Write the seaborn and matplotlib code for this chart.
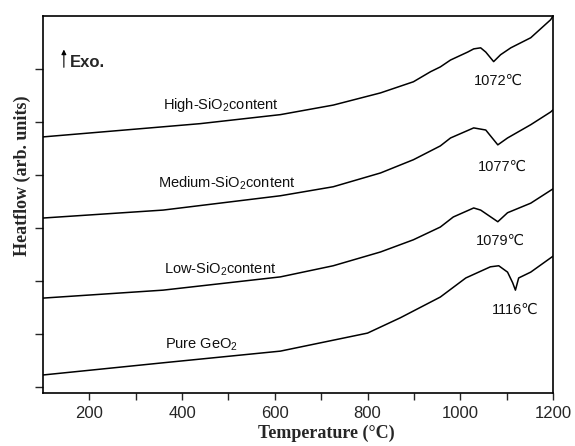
import numpy as np
import pandas as pd
import matplotlib
matplotlib.use("Agg")
import matplotlib.pyplot as plt
import seaborn as sns

# ---- data (temperature in °C, heatflow in arb. units) ----
high_T = [100, 331, 439, 612, 726, 828, 899, 936, 957, 979, 1016, 1029, 1044, 1055, 1072, 1087, 1109, 1152, 1195, 1200]
high_H = [4.83, 5.00, 5.08, 5.25, 5.43, 5.66, 5.87, 6.06, 6.15, 6.28, 6.43, 6.49, 6.51, 6.43, 6.25, 6.38, 6.51, 6.70, 7.04, 7.11]

med_T = [100, 359, 612, 726, 828, 899, 957, 979, 1029, 1055, 1081, 1102, 1152, 1195, 1200]
med_H = [3.30, 3.45, 3.72, 3.89, 4.15, 4.40, 4.66, 4.81, 5.00, 4.96, 4.68, 4.81, 5.06, 5.30, 5.34]

low_T = [100, 359, 612, 726, 828, 899, 957, 985, 1029, 1044, 1081, 1102, 1152, 1200]
low_H = [1.79, 1.94, 2.19, 2.40, 2.66, 2.89, 3.13, 3.32, 3.49, 3.45, 3.23, 3.40, 3.58, 3.85]

pure_T = [100, 359, 612, 800, 871, 957, 1012, 1065, 1083, 1102, 1113, 1119, 1126, 1152, 1200]
pure_H = [0.34, 0.57, 0.79, 1.13, 1.42, 1.81, 2.17, 2.38, 2.40, 2.28, 2.08, 1.94, 2.17, 2.28, 2.58]

series_names = ["High", "Medium", "Low", "Pure"]
curve_labels = [r"High-SiO$_2$content", r"Medium-SiO$_2$content", r"Low-SiO$_2$content", r"Pure GeO$_2$"]
peak_labels = ["1072\u2103", "1077\u2103", "1079\u2103", "1116\u2103"]
xtick_values = [200, 400, 600, 800, 1000, 1200]

frames = []
for name, T, H in zip(series_names, [high_T, med_T, low_T, pure_T], [high_H, med_H, low_H, pure_H]):
    frames.append(pd.DataFrame({"Temperature": T, "Heatflow": H, "sample": name}))
df = pd.concat(frames, ignore_index=True)

sns.set_style("ticks")
plt.rcParams["font.family"] = ["Liberation Sans", "DejaVu Sans"]
plt.rcParams["mathtext.fontset"] = "custom"
plt.rcParams["mathtext.rm"] = "Liberation Sans"
plt.rcParams["mathtext.it"] = "Liberation Sans:italic"
plt.rcParams["mathtext.bf"] = "Liberation Sans:bold"

fig = plt.figure(figsize=(5.75, 4.46), dpi=100)
ax = fig.add_axes([0.0748, 0.1188, 0.8869, 0.8453])

for name in series_names:
    sub = df[df["sample"] == name]
    sns.lineplot(data=sub, x="Temperature", y="Heatflow", ax=ax, color="black",
                 linewidth=1.1, sort=False, estimator=None, legend=False)

ax.set_xlim(100, 1200)
ax.set_ylim(0, 7.11)
ax.set_xticks(xtick_values)
ax.set_xticks([300, 500, 700, 900, 1100], minor=True)
ax.set_yticks(np.arange(0.113, 7.0, 1.0))
ax.set_yticklabels([])
ax.tick_params(axis="x", which="both", direction="out", length=5, width=1.0, labelsize=12, pad=4)
ax.tick_params(axis="y", which="both", direction="out", length=6, width=1.0)
for s in ax.spines.values():
    s.set_linewidth(1.2)
    s.set_color("black")

serif_bold = dict(family=["Liberation Serif", "DejaVu Serif"], weight="bold", size=13)
ax.set_xlabel("Temperature (\u00b0C)", fontdict=serif_bold)
ax.set_ylabel("Heatflow (arb. units)", fontdict=serif_bold, va="center")
ax.xaxis.set_label_coords(0.555, -0.085)
ax.yaxis.set_label_coords(-0.041, 0.576)

# curve labels
label_pos = [(359, 5.36), (348, 3.87), (361, 2.25), (363, 0.83)]
for (x, y), txt in zip(label_pos, curve_labels):
    ax.text(x, y, txt, fontsize=10.5, ha="left", va="baseline", color="#111111")

# peak temperatures
peak_pos = [(1083, 5.81), (1091, 4.19), (1087, 2.79), (1119, 1.49)]
for (x, y), txt in zip(peak_pos, peak_labels):
    ax.text(x, y, txt, fontsize=10.5, ha="center", va="baseline", color="#111111",
            family=["Liberation Sans", "DejaVu Sans"])

# Exo. marker
ax.annotate("", xy=(145, 6.53), xytext=(145, 6.09),
            arrowprops=dict(arrowstyle="-|>", color="black", lw=0.8, mutation_scale=7))
ax.text(158, 6.15, "Exo.", fontsize=12, weight="bold", ha="left", va="baseline")

fig.savefig("out.png", dpi=100)
